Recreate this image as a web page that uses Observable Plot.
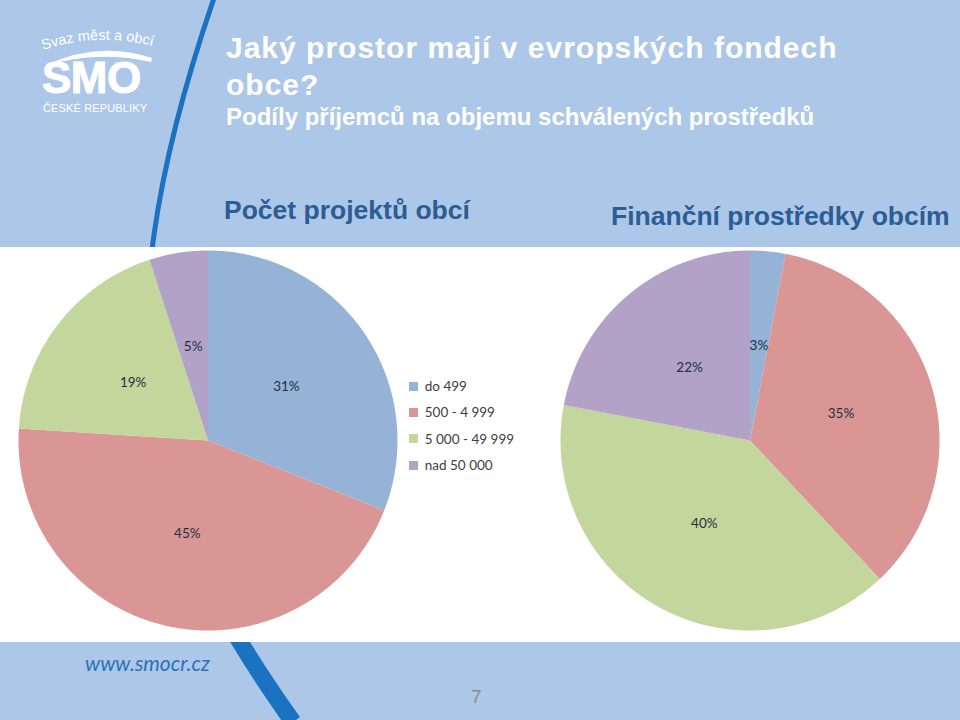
<!DOCTYPE html>
<html>
<head>
<meta charset="utf-8">
<script src="https://cdn.jsdelivr.net/npm/d3@7"></script>
<script src="https://cdn.jsdelivr.net/npm/@observablehq/plot@0.6"></script>
<style>
  html, body { margin: 0; padding: 0; }
  body { width: 960px; height: 720px; position: relative; overflow: hidden; background: #adc7e8; font-family: "Liberation Sans", Arial, sans-serif; }
  .abs { position: absolute; }
  #deco { left: 0; top: 0; }
  .title { left: 226px; color: #ffffff; font-weight: bold; font-size: 30px; letter-spacing: 1px; line-height: 1; white-space: nowrap; }
  .sub { left: 226px; top: 103px; color: #ffffff; font-weight: bold; font-size: 24px; white-space: nowrap; }
  .head { color: #2c5d94; font-weight: bold; font-size: 26.5px; white-space: nowrap; }
  #chart { left: 0; top: 247px; }
  #legend { left: 409px; top: 378px; }
  div.lg-swatches-columns div.lg-swatch { padding-bottom: 10.4px; }
  .url { left: 85px; top: 650px; color: #2e72b8; font-family: Lato, "Open Sans", sans-serif; font-style: italic; font-size: 21px; }
  .page { left: 471px; top: 686px; color: #8c8c8c; font-size: 19px; }
</style>
</head>
<body>
<svg id="deco" class="abs" width="960" height="720">
  <defs>
    <clipPath id="topClip"><rect x="0" y="0" width="960" height="247"/></clipPath>
    <clipPath id="botClip"><rect x="0" y="642" width="960" height="80"/></clipPath>
    <path id="arcText" d="M 43 50 Q 97 32 152 46"/>
  </defs>
  <path d="M 214 -2 C 90 360, 150 520, 293 722" fill="none" stroke="#1a72c0" stroke-width="5" clip-path="url(#topClip)"/>
  <path d="M 214 -2 C 90 360, 150 520, 293 722" fill="none" stroke="#1a72c0" stroke-width="17" clip-path="url(#botClip)"/>
  <rect x="0" y="247" width="960" height="395" fill="#ffffff"/>
  <text font-size="14.5" fill="#ffffff" font-family="Liberation Sans, Arial, sans-serif"><textPath href="#arcText">Svaz měst a obcí</textPath></text>
  <path d="M 44 66 Q 98 40 152 58 L 151 62 Q 98 50 44 66 Z" fill="#ffffff"/>
  <text x="42" y="93" font-size="44" font-weight="bold" fill="#ffffff" stroke="#ffffff" stroke-width="1" font-family="Liberation Sans, Arial, sans-serif" letter-spacing="-0.5">SMO</text>
  <text x="43" y="112" font-size="11" fill="#ffffff" font-family="Liberation Sans, Arial, sans-serif" textLength="104">ČESKÉ REPUBLIKY</text>
</svg>
<div class="abs title" style="top:33px">Jaký prostor mají v evropských fondech</div>
<div class="abs title" style="top:70px">obce?</div>
<div class="abs sub">Podíly příjemců na objemu schválených prostředků</div>
<div class="abs head" id="h1" style="left:224px; top:195px"></div>
<div class="abs head" id="h2" style="left:611px; top:201px"></div>
<div id="chart" class="abs"></div>
<div id="legend" class="abs"></div>
<div class="abs url">www.smocr.cz</div>
<div class="abs page">7</div>
<script>
// ---- data ----
const charts = ["Počet projektů obcí", "Finanční prostředky obcím"];
const categories = ["do 499", "500 - 4 999", "5 000 - 49 999", "nad 50 000"];
const projectShares = [31, 45, 19, 5];   // % of projects
const fundShares = [3, 35, 40, 22];      // % of funds
const colors = ["#95b3d7", "#d99694", "#c3d69b", "#b2a2c7"];

document.getElementById("h1").textContent = charts[0];
document.getElementById("h2").textContent = charts[1];

// ---- build pie geometry from the values ----
const series = [projectShares, fundShares];
const pie = d3.pie().sort(null).value(d => d.value);
const points = [];
const labels = [];
series.forEach((vals, ci) => {
  const arcs = pie(categories.map((c, i) => ({category: c, value: vals[i]})));
  arcs.forEach(a => {
    const key = charts[ci] + "|" + a.data.category;
    const base = {chart: charts[ci], category: a.data.category, key};
    points.push({...base, x: 0, y: 0});
    const n = Math.max(2, Math.ceil((a.endAngle - a.startAngle) / 0.01));
    for (let k = 0; k <= n; k++) {
      const t = a.startAngle + (a.endAngle - a.startAngle) * k / n;
      points.push({...base, x: Math.sin(t), y: Math.cos(t)});
    }
    points.push({...base, x: 0, y: 0});
    const mid = (a.startAngle + a.endAngle) / 2;
    labels.push({chart: charts[ci], x: 0.5 * Math.sin(mid), y: 0.5 * Math.cos(mid), text: a.data.value + "%"});
  });
});

const colorScale = {domain: categories, range: colors};

const plot = Plot.plot({
  width: 960,
  height: 395,
  marginTop: 3,
  marginBottom: 12,
  marginLeft: 17,
  marginRight: 20,
  style: {background: "transparent", overflow: "visible"},
  x: {domain: [-1, 1], axis: null},
  y: {domain: [-1, 1], axis: null},
  fx: {domain: charts, paddingInner: 0.3, paddingOuter: 0, axis: null},
  color: colorScale,
  marks: [
    Plot.line(points, {x: "x", y: "y", z: "key", fx: "chart", fill: "category", stroke: "none"}),
    Plot.text(labels, {x: "x", y: "y", fx: "chart", text: "text", fill: "#24303f", fontSize: 13.5, fontFamily: "Lato, 'Open Sans', sans-serif"})
  ]
});
document.getElementById("chart").appendChild(plot);

const legend = Plot.legend({
  color: colorScale,
  legend: "swatches",
  columns: 1,
  swatchSize: 9,
  className: "lg",
  style: {fontFamily: "Lato, 'Open Sans', sans-serif", fontSize: "13.5px", color: "#404040", background: "transparent"}
});
document.getElementById("legend").appendChild(legend);
</script>
</body>
</html>
